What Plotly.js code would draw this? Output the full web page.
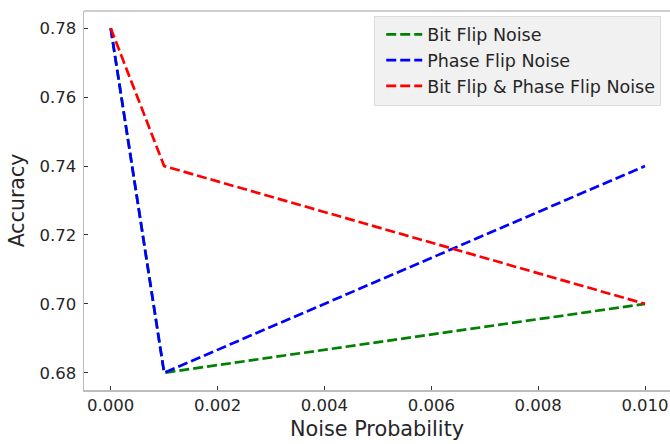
<!DOCTYPE html>
<html>
<head>
<meta charset="utf-8">
<script src="https://cdn.plot.ly/plotly-3.0.1.min.js"></script>
<style>body{margin:0;padding:0;background:#fff;} #chart{width:670px;height:444px;}</style>
</head>
<body>
<div id="chart"></div>
<script>
const noiseProb = [0.0, 0.001, 0.01];
const bitFlipAcc = [0.78, 0.68, 0.70];
const phaseFlipAcc = [0.78, 0.68, 0.74];
const bothFlipAcc = [0.78, 0.74, 0.70];
const seriesNames = ["Bit Flip Noise", "Phase Flip Noise", "Bit Flip & Phase Flip Noise"];
const xTicks = [0, 0.002, 0.004, 0.006, 0.008, 0.010];
const xTickText = ["0.000", "0.002", "0.004", "0.006", "0.008", "0.010"];
const yTicks = [0.68, 0.70, 0.72, 0.74, 0.76, 0.78];
const yTickText = ["0.68", "0.70", "0.72", "0.74", "0.76", "0.78"];

const font = "DejaVu Sans, sans-serif";
function tr(y, name, color) {
  return {x: noiseProb, y: y, name: name, type: "scatter", mode: "lines",
          line: {color: color, width: 2.7, dash: "10px,4px"}};
}
const data = [
  tr(bitFlipAcc, seriesNames[0], "#008000"),
  tr(phaseFlipAcc, seriesNames[1], "#0000ff"),
  tr(bothFlipAcc, seriesNames[2], "#ff0000")
];
const layout = {
  width: 670, height: 444,
  margin: {l: 84, r: 0, t: 11, b: 53.5, pad: 0},
  paper_bgcolor: "#ffffff", plot_bgcolor: "#ffffff",
  font: {family: font, color: "#262626", size: 16.5},
  showlegend: true,
  legend: {x: 0.985, y: 0.988, xanchor: "right", yanchor: "top",
           bgcolor: "rgba(240,240,240,0.95)", bordercolor: "#dcdcdc", borderwidth: 1,
           itemwidth: 36, indentation: 6,
           font: {family: font, size: 17.5, color: "#262626"}, tracegroupgap: 0},
  xaxis: {range: [-0.0005, 0.010468], tickvals: xTicks, ticktext: xTickText,
          ticks: "inside", ticklen: 4, tickwidth: 1, tickcolor: "#333",
          showgrid: false, zeroline: false, showline: true, linecolor: "#bdbdbd", linewidth: 1.5,
          tickfont: {size: 16.5, color: "#262626"},
          title: {text: "Noise Probability", font: {size: 20.8, color: "#262626"}, standoff: 7}},
  yaxis: {range: [0.675, 0.785], tickvals: yTicks, ticktext: yTickText,
          ticks: "inside", ticklen: 4, tickwidth: 1, tickcolor: "#333", ticklabelstandoff: 3,
          showgrid: false, zeroline: false, showline: true, linecolor: "#bdbdbd", linewidth: 1.5,
          tickfont: {size: 16.5, color: "#262626"},
          title: {text: "Accuracy", font: {size: 20.5, color: "#262626"}, standoff: 9}},
  shapes: [{type: "line", xref: "paper", yref: "paper", x0: 0, x1: 1, y0: 1, y1: 1,
            line: {color: "#bdbdbd", width: 1.5}}]
};
Plotly.newPlot("chart", data, layout, {displayModeBar: false, staticPlot: true});
</script>
</body>
</html>
